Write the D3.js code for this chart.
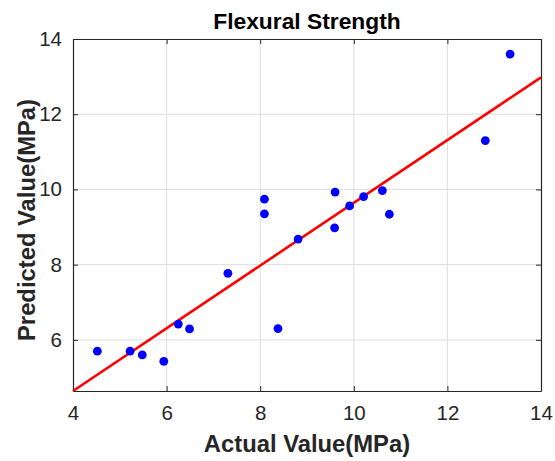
<!DOCTYPE html>
<html>
<head>
<meta charset="utf-8">
<script src="https://cdn.jsdelivr.net/npm/d3@7"></script>
<style>
  body { margin: 0; background: #fff; }
  svg { display: block; font-family: "Liberation Sans", Arial, sans-serif; }
</style>
</head>
<body>
<svg id="chart" width="555" height="461"></svg>
<script>
// measured values (MPa)
const actual = [4.52, 5.22, 5.48, 5.94, 6.25, 6.49, 8.38, 7.31, 8.09, 8.09,
                8.81, 9.60, 9.59, 9.91, 10.21, 10.61, 10.76, 13.34, 12.81];
const predicted = [5.70, 5.70, 5.60, 5.43, 6.42, 6.29, 6.30, 7.77, 9.74, 9.35,
                   8.68, 9.93, 8.98, 9.56, 9.81, 9.97, 9.34, 13.60, 11.30];

// regression line end points
const fitX = [4, 14];
const fitY = [4.64, 12.98];

const xTicks = [4, 6, 8, 10, 12, 14];
const yTicks = [6, 8, 10, 12, 14];

const W = 555, H = 461;
const margin = {top: 39, right: 14, bottom: 70, left: 73};

const svg = d3.select("svg#chart");

const x = d3.scaleLinear().domain([4, 14]).range([margin.left, W - margin.right]);
const y = d3.scaleLinear().domain([4.64, 14]).range([H - margin.bottom, margin.top]);

const axisColor = "#262626";
const gridColor = "#dedede";

// grid
const grid = svg.append("g").attr("class", "grid");
grid.selectAll("line.gx")
    .data(xTicks.slice(1, -1))
    .enter().append("line")
    .attr("x1", d => x(d)).attr("x2", d => x(d))
    .attr("y1", y.range()[0]).attr("y2", y.range()[1])
    .attr("stroke", gridColor).attr("stroke-width", 1);
grid.selectAll("line.gy")
    .data(yTicks.slice(0, -1))
    .enter().append("line")
    .attr("y1", d => y(d)).attr("y2", d => y(d))
    .attr("x1", x.range()[0]).attr("x2", x.range()[1])
    .attr("stroke", gridColor).attr("stroke-width", 1);

// axes (ticks pointing inward, box on all sides)
const tickLen = 5;
const bottomAxis = svg.append("g")
    .attr("transform", `translate(0,${y.range()[0]})`)
    .call(d3.axisBottom(x).tickValues(xTicks).tickSizeInner(-tickLen).tickSizeOuter(0).tickPadding(14));
const leftAxis = svg.append("g")
    .attr("transform", `translate(${x.range()[0]},0)`)
    .call(d3.axisLeft(y).tickValues(yTicks).tickSizeInner(-tickLen).tickSizeOuter(0).tickPadding(11));
const topAxis = svg.append("g")
    .attr("transform", `translate(0,${y.range()[1]})`)
    .call(d3.axisTop(x).tickValues(xTicks).tickSizeInner(-tickLen).tickSizeOuter(0).tickFormat(""));
const rightAxis = svg.append("g")
    .attr("transform", `translate(${x.range()[1]},0)`)
    .call(d3.axisRight(y).tickValues(yTicks).tickSizeInner(-tickLen).tickSizeOuter(0).tickFormat(""));

[bottomAxis, leftAxis, topAxis, rightAxis].forEach(a => {
    a.select(".domain").attr("stroke", axisColor).attr("stroke-width", 1.2);
    a.selectAll(".tick line").attr("stroke", axisColor).attr("stroke-width", 1);
    a.selectAll(".tick text")
        .attr("fill", axisColor)
        .attr("font-size", 20.5)
        .attr("font-family", "Liberation Sans, Arial, sans-serif");
});

// fit line
const line = d3.line().x(d => x(d[0])).y(d => y(d[1]));
svg.append("path")
    .datum(d3.zip(fitX, fitY))
    .attr("d", line)
    .attr("fill", "none")
    .attr("stroke", "#ff0000")
    .attr("stroke-width", 2.6);

// points
svg.append("g").selectAll("circle")
    .data(d3.zip(actual, predicted))
    .enter().append("circle")
    .attr("cx", d => x(d[0]))
    .attr("cy", d => y(d[1]))
    .attr("r", 4.4)
    .attr("fill", "#0000ff");

// title and labels
const cx = (x.range()[0] + x.range()[1]) / 2;

svg.append("text")
    .attr("x", cx).attr("y", 29)
    .attr("text-anchor", "middle")
    .attr("font-size", 22.8).attr("font-weight", "bold")
    .attr("fill", "#000")
    .text("Flexural Strength");

svg.append("text")
    .attr("x", cx).attr("y", 452)
    .attr("text-anchor", "middle")
    .attr("font-size", 23.8).attr("font-weight", "bold")
    .attr("fill", axisColor)
    .text("Actual Value(MPa)");

svg.append("text")
    .attr("transform", "translate(35,220) rotate(-90)")
    .attr("text-anchor", "middle")
    .attr("font-size", 23.8).attr("font-weight", "bold")
    .attr("fill", axisColor)
    .text("Predicted Value(MPa)");
</script>
</body>
</html>
